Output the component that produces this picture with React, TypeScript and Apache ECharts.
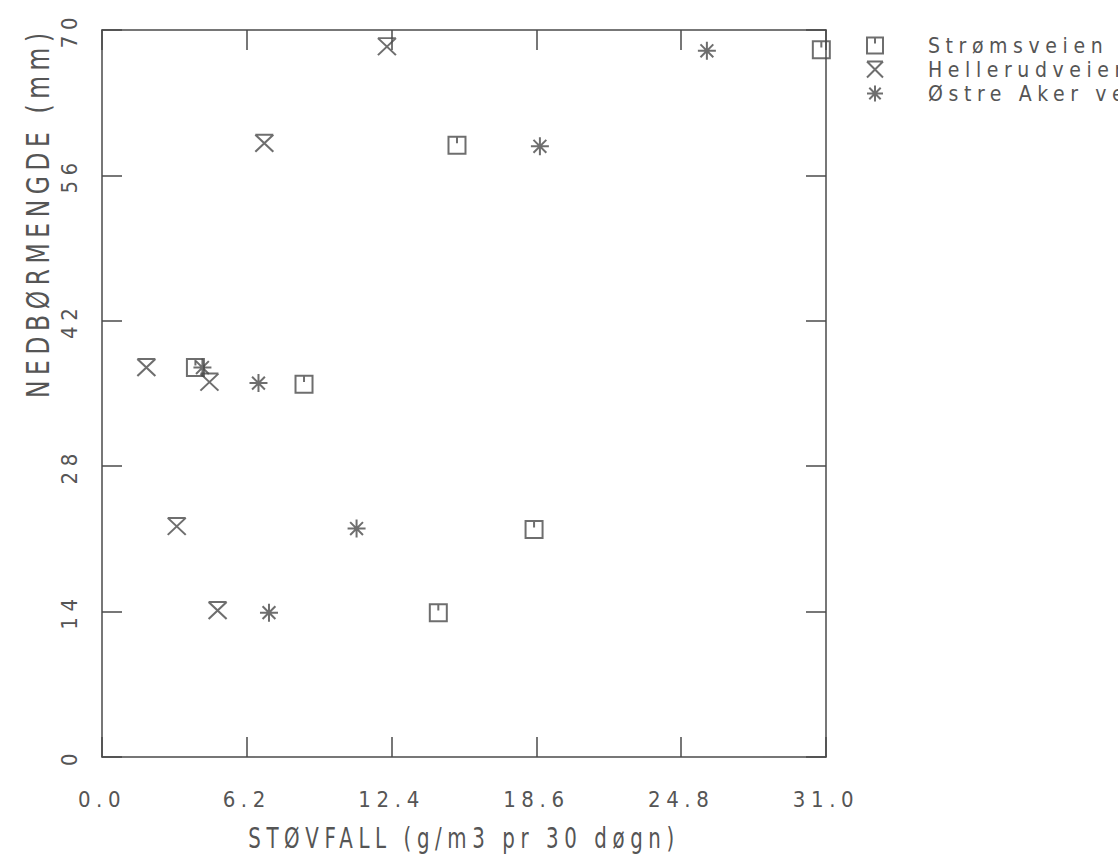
import React, { useEffect, useRef } from "react";
import * as echarts from "echarts";

// Støvfall vs. nedbørmengde, three measuring stations
const stationNames = ["Strømsveien", "Hellerudveien", "Østre Aker vei"];

// [støvfall (g/m3 pr 30 døgn), nedbørmengde (mm)]
const stromsveien: [number, number][] = [
  [30.8, 68.1],
  [15.2, 58.9],
  [4.0, 37.5],
  [8.65, 35.9],
  [18.5, 21.9],
  [14.4, 13.9],
];
const hellerudveien: [number, number][] = [
  [12.2, 68.4],
  [6.95, 59.1],
  [1.9, 37.5],
  [4.6, 36.1],
  [3.2, 22.2],
  [4.95, 14.1],
];
const ostreAkerVei: [number, number][] = [
  [25.9, 68.0],
  [18.75, 58.8],
  [4.3, 37.5],
  [6.7, 36.0],
  [10.9, 22.0],
  [7.15, 13.9],
];

const xMin = 0;
const xMax = 31;
const xStep = 6.2;
const yMin = 0;
const yMax = 70;
const yStep = 14;

const xTitle = "STØVFALL (g/m3 pr 30 døgn)";
const yTitle = "NEDBØRMENGDE (mm)";

// plotter-style marker outlines
const squareMark = "path://M0,0L16,0L16,16L0,16ZM8,0L8,6";
const hourglassMark = "path://M0,0L16,0M0,0L16,16M16,0L0,16";
const starMark = "path://M8,0L8,16M0,8L16,8M2.3,2.3L13.7,13.7M13.7,2.3L2.3,13.7";

const ink = "#4a4a4a";
const textInk = "#555";
const font = "'Liberation Sans Narrow', 'DejaVu Sans Condensed', sans-serif";

export default function App() {
  const ref = useRef<HTMLDivElement>(null);

  useEffect(() => {
    if (!ref.current) return;
    const chart = echarts.init(ref.current, undefined, { renderer: "svg" });

    const frameAxis = {
      axisLine: { show: true, onZero: false, lineStyle: { color: ink, width: 1.5 } },
      axisTick: { show: true, inside: true, length: 20, lineStyle: { color: ink, width: 1.5 } },
      splitLine: { show: false },
    };

    const markerStyle = {
      color: "rgba(0,0,0,0)",
      borderColor: ink,
      borderWidth: 2,
    };

    chart.setOption({
      animation: false,
      backgroundColor: "#fff",
      textStyle: { fontFamily: font, color: textInk },
      grid: { left: 102, top: 30, width: 724, height: 727 },
      legend: {
        orient: "vertical",
        left: 866,
        top: 35,
        padding: 0,
        itemGap: 3,
        itemWidth: 16,
        itemHeight: 16,
        selectedMode: false,
        textStyle: { fontSize: 21, color: textInk, fontFamily: font, padding: [0, 0, 0, 40] },
        data: stationNames,
      },
      xAxis: [
        {
          ...frameAxis,
          type: "value",
          position: "bottom",
          min: xMin,
          max: xMax,
          interval: xStep,
          axisLabel: {
            show: true,
            margin: 31,
            fontSize: 22,
            color: textInk,
            fontFamily: font,
            showMinLabel: true,
            showMaxLabel: true,
            formatter: (v: number) => v.toFixed(1),
          },
        },
        {
          ...frameAxis,
          type: "value",
          position: "top",
          min: xMin,
          max: xMax,
          interval: xStep,
          axisLabel: { show: false },
        },
      ],
      yAxis: [
        {
          ...frameAxis,
          type: "value",
          position: "left",
          min: yMin,
          max: yMax,
          interval: yStep,
          axisLabel: {
            show: true,
            rotate: 90,
            margin: 22,
            fontSize: 22,
            color: textInk,
            fontFamily: font,
            showMinLabel: true,
            showMaxLabel: true,
            formatter: (v: number) => String(Math.round(v)),
          },
        },
        {
          ...frameAxis,
          type: "value",
          position: "right",
          min: yMin,
          max: yMax,
          interval: yStep,
          axisLabel: { show: false },
        },
      ],
      graphic: [
        {
          // x-axis title, drawn tall and narrow like a plotter font
          type: "text",
          x: 464,
          y: 838,
          scaleY: 1.3,
          style: {
            text: xTitle,
            fontSize: 22,
            fontFamily: font,
            fill: textInk,
            align: "center",
            verticalAlign: "middle",
          },
        },
        {
          // y-axis title, reading upwards from the middle of the axis
          type: "text",
          x: 38,
          y: 398,
          rotation: Math.PI / 2,
          scaleY: 1.2,
          style: {
            text: yTitle,
            fontSize: 26,
            fontFamily: font,
            fill: textInk,
            align: "left",
            verticalAlign: "middle",
          },
        },
      ],
      series: [
        {
          name: stationNames[0],
          type: "scatter",
          data: stromsveien,
          symbol: squareMark,
          symbolSize: [17, 17],
          itemStyle: markerStyle,
        },
        {
          name: stationNames[1],
          type: "scatter",
          data: hellerudveien,
          symbol: hourglassMark,
          symbolSize: [18, 17],
          itemStyle: markerStyle,
        },
        {
          name: stationNames[2],
          type: "scatter",
          data: ostreAkerVei,
          symbol: starMark,
          symbolSize: [18, 18],
          itemStyle: markerStyle,
        },
      ],
    });

    return () => chart.dispose();
  }, []);

  return (
    <div
      ref={ref}
      style={{
        position: "absolute",
        left: 0,
        top: 0,
        width: 1118,
        height: 859,
        letterSpacing: "0.35em",
      }}
    />
  );
}
